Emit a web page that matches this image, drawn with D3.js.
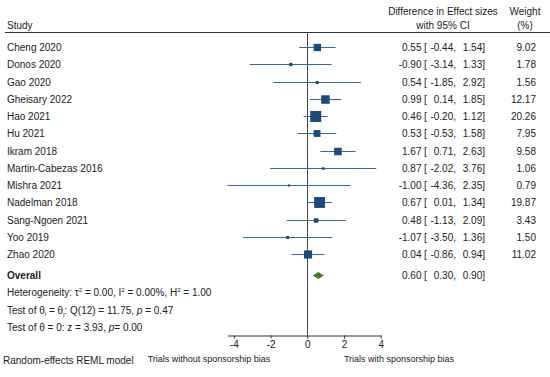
<!DOCTYPE html>
<html><head><meta charset="utf-8">
<script src="https://cdn.jsdelivr.net/npm/d3@7"></script>
<style>
body{margin:0;background:#fff}
text{font-family:"Liberation Sans",Arial,sans-serif;font-size:10px;fill:#222}
</style></head>
<body><svg id="c" width="550" height="377"></svg>
<script>
const studies=["Cheng 2020","Donos 2020","Gao 2020","Gheisary 2022","Hao 2021","Hu 2021","Ikram 2018","Martin-Cabezas 2016","Mishra 2021","Nadelman 2018","Sang-Ngoen 2021","Yoo 2019","Zhao 2020"];
const est=[0.55,-0.90,0.54,0.99,0.46,0.53,1.67,0.87,-1.00,0.67,0.48,-1.07,0.04];
const lo=[-0.44,-3.14,-1.85,0.14,-0.20,-0.53,0.71,-2.02,-4.36,0.01,-1.13,-3.50,-0.86];
const hi=[1.54,1.33,2.92,1.85,1.12,1.58,2.63,3.76,2.35,1.34,2.09,1.36,0.94];
const weights=[9.02,1.78,1.56,12.17,20.26,7.95,9.58,1.06,0.79,19.87,3.43,1.50,11.02];
const overall={est:0.60,lo:0.30,hi:0.90};
const xTicks=[-4,-2,0,2,4];

const svg=d3.select("#c");
const blue="#1f4a78", lineBlue="#3a6796", green="#4e7a2a";
const x=d3.scaleLinear().domain([-4.36,4]).range([227.3,380.7]);
const y=d3.scaleLinear().domain([0,12]).range([47,254]);
const yr=i=>Math.round(y(i))+0.5;
const overallY=yr(12)+21;
const fmt=v=>d3.format(".2f")(v).replace("\u2212","-");

// header
svg.append("text").attr("x",7).attr("y",28.5).text("Study");
svg.append("text").attr("x",443).attr("y",14.5).attr("text-anchor","middle").text("Difference in Effect sizes");
svg.append("text").attr("x",443).attr("y",28.5).attr("text-anchor","middle").text("with 95% CI");
svg.append("text").attr("x",525).attr("y",14.5).attr("text-anchor","middle").text("Weight");
svg.append("text").attr("x",525).attr("y",28.5).attr("text-anchor","middle").text("(%)");
svg.append("line").attr("x1",5).attr("x2",550).attr("y1",32.5).attr("y2",32.5).attr("stroke","#333").attr("stroke-width",1);

// zero line
const x0=Math.round(x(0))+0.5;
svg.append("line").attr("x1",x0).attr("x2",x0).attr("y1",32).attr("y2",335.5).attr("stroke","#444").attr("stroke-width",1);

const rows=studies.map((s,i)=>({s,e:est[i],l:lo[i],h:hi[i],w:weights[i],i}));
const g=svg.append("g");
g.selectAll("line.ci").data(rows).join("line").attr("class","ci")
 .attr("x1",d=>x(d.l)).attr("x2",d=>x(d.h)).attr("y1",d=>yr(d.i)).attr("y2",d=>yr(d.i))
 .attr("stroke",lineBlue).attr("stroke-width",1);
const side=d=>11*Math.sqrt(d.w/20.26);
g.selectAll("rect").data(rows).join("rect")
 .attr("x",d=>x(d.e)-side(d)/2).attr("y",d=>yr(d.i)-side(d)/2)
 .attr("width",side).attr("height",side).attr("fill",blue);

// labels
g.selectAll("text.st").data(rows).join("text").attr("class","st")
 .attr("x",7).attr("y",d=>yr(d.i)+3.6).text(d=>d.s);
function ciText(yy,e,l,h){
  svg.append("text").attr("x",421.5).attr("y",yy).attr("text-anchor","end").text(fmt(e));
  svg.append("text").attr("x",424).attr("y",yy).text("[");
  svg.append("text").attr("x",456).attr("y",yy).attr("text-anchor","end").text(fmt(l)+",");
  svg.append("text").attr("x",485).attr("y",yy).attr("text-anchor","end").text(fmt(h)+"]");
}
rows.forEach(d=>{
  ciText(yr(d.i)+3.6,d.e,d.l,d.h);
  svg.append("text").attr("x",536).attr("y",yr(d.i)+3.6).attr("text-anchor","end").text(fmt(d.w));
});

// overall
svg.append("text").attr("x",7).attr("y",overallY+3.6).style("font-weight","bold").text("Overall");
const dh=3.6;
svg.append("path").attr("d",`M${x(overall.lo)},${overallY}L${x(overall.est)},${overallY-dh}L${x(overall.hi)},${overallY}L${x(overall.est)},${overallY+dh}Z`).attr("fill",green);
ciText(overallY+3.6,overall.est,overall.lo,overall.hi);

// heterogeneity lines
const t1=svg.append("text").attr("x",7).attr("y",overallY+17.25+3.6);
t1.append("tspan").text("Heterogeneity: τ");
t1.append("tspan").attr("dy",-4).style("font-size","6px").text("2");
t1.append("tspan").attr("dy",4).text(" = 0.00, I");
t1.append("tspan").attr("dy",-4).style("font-size","6px").text("2");
t1.append("tspan").attr("dy",4).text(" = 0.00%, H");
t1.append("tspan").attr("dy",-4).style("font-size","6px").text("2");
t1.append("tspan").attr("dy",4).text(" = 1.00");
const t2=svg.append("text").attr("x",7).attr("y",overallY+34.5+3.6);
t2.append("tspan").text("Test of θ");
t2.append("tspan").attr("dy",2).style("font-size","6px").text("i");
t2.append("tspan").attr("dy",-2).text(" = θ");
t2.append("tspan").attr("dy",2).style("font-size","6px").text("j");
t2.append("tspan").attr("dy",-2).text(": Q(12) = 11.75, ");
t2.append("tspan").style("font-style","italic").text("p");
t2.append("tspan").text(" = 0.47");
const t3=svg.append("text").attr("x",7).attr("y",overallY+51.75+3.6);
t3.append("tspan").text("Test of θ = 0: z = 3.93, ");
t3.append("tspan").style("font-style","italic").text("p");
t3.append("tspan").text("= 0.00");

// axis
const ax=svg.append("g").attr("transform","translate(0,335.5)")
 .call(d3.axisBottom(x).tickValues(xTicks).tickFormat(d3.format("d")).tickSize(3).tickSizeOuter(0));
ax.select(".domain").attr("stroke","#333");
ax.selectAll(".tick line").attr("stroke","#333");
ax.selectAll(".tick text").attr("y",5).style("font-family","Liberation Sans, Arial, sans-serif").style("font-size","10px").attr("fill","#222").text(d=>d<0?"-"+Math.abs(d):d);

svg.append("text").attr("x",209).attr("y",362).attr("text-anchor","middle").style("font-size","9px").text("Trials without sponsorship bias");
svg.append("text").attr("x",399).attr("y",362).attr("text-anchor","middle").style("font-size","9px").text("Trials with sponsorship bias");
svg.append("text").attr("x",3).attr("y",364).text("Random-effects REML model");
</script></body></html>
